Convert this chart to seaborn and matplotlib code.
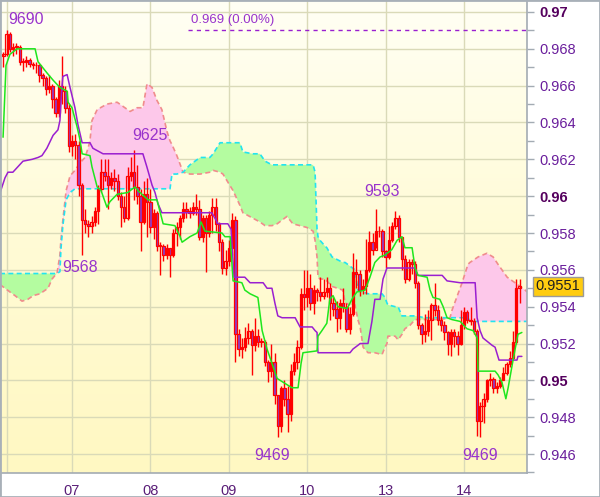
import numpy as np
import pandas as pd
import matplotlib
matplotlib.use("Agg")
import matplotlib.pyplot as plt
import seaborn as sns
from matplotlib.colors import LinearSegmentedColormap
from matplotlib.patches import Rectangle

# hourly bars, prices in pips (price * 10000)
first_open = 9676
closes = [9677, 9688, 9680, 9681, 9681, 9673, 9673, 9674, 9672, 9671,
          9671, 9666, 9664, 9658, 9660, 9653, 9645, 9660, 9657, 9648,
          9627, 9630, 9628, 9606, 9587, 9585, 9584, 9586, 9592, 9604,
          9613, 9611, 9606, 9610, 9608, 9600, 9594, 9588, 9611, 9613,
          9605, 9600, 9586, 9601, 9597, 9583, 9591, 9573, 9573, 9568,
          9572, 9568, 9580, 9583, 9588, 9593, 9592, 9591, 9594, 9593,
          9578, 9588, 9580, 9590, 9594, 9585, 9575, 9561, 9565, 9572,
          9587, 9525, 9517, 9518, 9523, 9527, 9519, 9524, 9521, 9521,
          9510, 9505, 9510, 9492, 9475, 9496, 9490, 9482, 9505, 9510,
          9518, 9547, 9545, 9550, 9542, 9549, 9548, 9546, 9548, 9550,
          9542, 9539, 9534, 9542, 9540, 9528, 9536, 9559, 9558, 9549,
          9551, 9560, 9575, 9571, 9581, 9581, 9570, 9567, 9576, 9584,
          9588, 9578, 9566, 9555, 9564, 9563, 9553, 9530, 9525, 9527,
          9533, 9541, 9538, 9533, 9530, 9526, 9520, 9526, 9524, 9520,
          9530, 9537, 9533, 9532, 9527, 9478, 9486, 9490, 9500, 9501,
          9496, 9497, 9500, 9504, 9509, 9512, 9521, 9550, 9551]
highs = [9678, 9690, 9689, 9683, 9683, 9682, 9675, 9676, 9675, 9673,
         9673, 9672, 9667, 9665, 9666, 9661, 9654, 9663, 9676, 9660,
         9650, 9633, 9634, 9630, 9607, 9593, 9587, 9589, 9594, 9606,
         9620, 9620, 9620, 9613, 9615, 9612, 9602, 9600, 9616, 9621,
         9625, 9617, 9604, 9608, 9610, 9604, 9593, 9592, 9575, 9574,
         9574, 9572, 9582, 9586, 9590, 9597, 9597, 9594, 9597, 9601,
         9598, 9590, 9590, 9592, 9599, 9599, 9586, 9577, 9571, 9576,
         9591, 9589, 9528, 9523, 9529, 9531, 9528, 9534, 9528, 9523,
         9522, 9511, 9520, 9515, 9492, 9497, 9500, 9497, 9509, 9515,
         9522, 9550, 9560, 9560, 9558, 9552, 9550, 9556, 9555, 9556,
         9553, 9545, 9543, 9544, 9550, 9542, 9540, 9569, 9566, 9560,
         9555, 9577, 9581, 9580, 9593, 9584, 9582, 9571, 9584, 9586,
         9592, 9590, 9573, 9568, 9566, 9566, 9565, 9554, 9531, 9536,
         9538, 9542, 9553, 9541, 9535, 9532, 9527, 9528, 9528, 9527,
         9538, 9540, 9538, 9540, 9534, 9528, 9488, 9493, 9501, 9504,
         9502, 9499, 9502, 9507, 9510, 9516, 9527, 9555, 9555]
lows = [9670, 9676, 9678, 9676, 9677, 9671, 9668, 9670, 9670, 9669,
        9667, 9662, 9660, 9655, 9656, 9648, 9643, 9643, 9650, 9645,
        9624, 9622, 9620, 9600, 9568, 9580, 9578, 9580, 9584, 9585,
        9602, 9608, 9593, 9604, 9603, 9598, 9583, 9586, 9587, 9608,
        9598, 9596, 9570, 9585, 9578, 9580, 9577, 9570, 9557, 9565,
        9566, 9556, 9567, 9573, 9577, 9586, 9588, 9588, 9590, 9590,
        9576, 9575, 9559, 9578, 9580, 9581, 9570, 9558, 9557, 9562,
        9568, 9510, 9513, 9512, 9516, 9520, 9503, 9516, 9518, 9518,
        9508, 9499, 9502, 9487, 9469, 9472, 9486, 9472, 9478, 9503,
        9506, 9517, 9538, 9540, 9538, 9536, 9543, 9543, 9544, 9545,
        9533, 9535, 9526, 9528, 9537, 9526, 9525, 9535, 9550, 9546,
        9547, 9547, 9559, 9568, 9572, 9578, 9567, 9561, 9566, 9575,
        9582, 9575, 9560, 9553, 9554, 9558, 9550, 9528, 9520, 9521,
        9524, 9522, 9535, 9530, 9527, 9522, 9514, 9513, 9518, 9514,
        9519, 9528, 9531, 9530, 9525, 9470, 9469, 9477, 9488, 9497,
        9493, 9493, 9496, 9500, 9503, 9507, 9511, 9520, 9542]

day_bars = [21, 45, 69, 93, 117, 141]
day_labels = ["07", "08", "09", "10", "13", "14"]

# tenkan (green) and kijun (purple): bar position, pips
tenkan_bar = [-0.1, 0.8, 2.0, 4.2, 9.7, 10.6, 13.3, 15.2, 17.3, 19.5, 19.8, 21.0, 22.5, 23.4,
              24.1, 26.5, 27.1, 28.7, 29.9, 31.7, 32.6, 34.8, 38.1, 38.8, 40.3, 41.2, 44.3,
              47.0, 48.9, 52.5, 54.1, 54.7, 57.1, 59.3, 60.5, 61.7, 66.9, 67.8, 69.4, 70.3,
              73.0, 73.9, 75.5, 77.9, 79.2, 80.7, 83.8, 85.6, 88.3, 90.2, 91.1, 91.7, 96.0,
              96.3, 97.5, 99.0, 99.9, 100.9, 102.4, 105.2, 107.0, 108.2, 110.7, 112.2, 113.7,
              115.3, 116.8, 118.9, 120.5, 122.0, 122.9, 125.1, 126.0, 126.9, 129.7, 130.6,
              131.5, 133.6, 134.6, 135.8, 137.3, 139.8, 141.9, 143.8, 145.0, 145.3, 150.5,
              151.4, 152.6, 153.8, 154.5, 156.0, 157.5, 158.7]
tenkan = [9632, 9671, 9677, 9680, 9680, 9673, 9667, 9663, 9659, 9657, 9651, 9648, 9638, 9631,
          9623, 9622, 9616, 9605, 9603, 9594, 9597, 9601, 9602, 9603, 9605, 9603, 9598,
          9598, 9585, 9584, 9578, 9575, 9578, 9580, 9586, 9581, 9580, 9578, 9578, 9554,
          9553, 9549, 9547, 9545, 9527, 9517, 9501, 9499, 9496, 9496, 9509, 9515, 9516,
          9524, 9527, 9531, 9544, 9546, 9540, 9539, 9545, 9548, 9549, 9556, 9564,
          9567, 9568, 9571, 9576, 9578, 9572, 9572, 9561, 9557, 9556, 9549,
          9545, 9544, 9540, 9534, 9533, 9532, 9528, 9527, 9523, 9505, 9505,
          9503, 9499, 9490, 9496, 9511, 9525, 9526]
kijun_bar = [-1.0, 0.5, 1.4, 2.9, 6.0, 8.8, 10.6, 11.8, 13.3, 15.2, 16.7, 17.3, 17.9, 18.2,
             19.5, 20.4, 21.9, 22.8, 24.1, 26.5, 27.4, 30.5, 42.7, 43.9, 45.5, 46.4, 47.3,
             48.5, 63.8, 65.7, 68.7, 69.7, 70.6, 73.9, 75.5, 79.5, 80.7, 82.2, 83.1, 84.0,
             85.3, 89.3, 90.8, 94.5, 95.4, 96.0, 96.3, 106.1, 107.0, 108.5, 109.2, 111.6,
             112.8, 113.7, 115.3, 116.2, 117.4, 126.0, 126.9, 134.3, 135.8, 139.8, 144.4,
             145.0, 145.9, 146.8, 149.6, 150.5, 151.7, 157.2, 157.5, 158.7]
kijun = [9602, 9610, 9613, 9613, 9619, 9620, 9621, 9622, 9626, 9633, 9636, 9641, 9659, 9665,
         9666, 9659, 9648, 9639, 9629, 9629, 9626, 9623, 9623, 9616, 9606, 9602, 9596,
         9591, 9591, 9585, 9585, 9582, 9556, 9556, 9553, 9553, 9550, 9550, 9542, 9535,
         9534, 9534, 9529, 9529, 9527, 9526, 9515, 9515, 9517, 9519, 9520, 9520,
         9532, 9544, 9544, 9555, 9561, 9561, 9557, 9557, 9554, 9553, 9553,
         9534, 9527, 9523, 9519, 9518, 9511, 9511, 9513, 9513]

# cloud: senkou span A (cyan) and span B (salmon)
cloud_bar = [-1.04, 2.0, 3.55, 5.7, 7.5, 9.1, 11.2, 13.65, 14.9, 15.8, 16.4, 17.3, 17.6, 18.2,
             19.2, 20.4, 21.9, 23.4, 25.0, 25.9, 26.5, 27.1, 28.7, 31.7, 34.8, 37.2, 38.8,
             40.9, 42.7, 43.95, 45.5, 47.0, 48.5, 50.1, 51.0, 51.6, 53.1, 55.0, 57.1, 60.2,
             63.2, 64.2, 66.3, 67.2, 70.3, 72.4, 73.3, 76.4, 78.5, 80.1, 82.2, 83.8, 86.8,
             88.6, 92.9, 94.8, 95.4, 96.0, 96.3, 96.9, 98.4, 99.0, 100.6, 103.9, 104.6,
             106.1, 107.6, 108.5, 109.2, 110.1, 111.6, 113.7, 115.9, 116.8, 117.4, 117.7,
             119.9, 120.8, 122.0, 122.9, 124.5, 126.0, 129.0, 133.6, 136.7, 137.3, 140.4,
             142.2, 142.8, 145.3, 148.0, 149.9, 151.4, 154.2, 156.6, 159.7, 160.3]
span_a = [9558, 9558, 9558, 9558, 9558, 9558, 9558, 9558, 9558, 9558, 9558, 9559, 9571, 9584,
          9598, 9602, 9604, 9604, 9604, 9604, 9604, 9604, 9604, 9604, 9604, 9604, 9604,
          9604, 9604, 9604, 9604, 9604, 9604, 9604, 9604, 9612, 9612, 9613, 9617, 9621,
          9621, 9623, 9629, 9629, 9629, 9629, 9624, 9623, 9623, 9619, 9617, 9617, 9617,
          9617, 9617, 9617, 9613, 9582, 9578, 9576, 9573, 9572, 9567, 9564, 9564,
          9562, 9560, 9549, 9548, 9548, 9547, 9547, 9547, 9545, 9542, 9541,
          9540, 9540, 9535, 9535, 9535, 9535, 9534, 9534, 9534, 9534, 9534,
          9534, 9532, 9532, 9532, 9532, 9532, 9532, 9532, 9532, 9532]
span_b = [9552, 9548, 9546, 9543, 9544, 9546, 9547, 9550, 9555, 9557, 9558, 9568, 9576, 9587,
          9603, 9611, 9614, 9618, 9621, 9626, 9630, 9641, 9647, 9650, 9651, 9648, 9646,
          9648, 9648, 9661, 9659, 9652, 9647, 9635, 9630, 9628, 9622, 9613, 9612, 9612,
          9613, 9614, 9613, 9612, 9603, 9595, 9591, 9588, 9586, 9584, 9584, 9585, 9589,
          9585, 9583, 9581, 9576, 9567, 9556, 9555, 9555, 9554, 9551, 9549, 9542,
          9541, 9541, 9533, 9529, 9518, 9515, 9515, 9514, 9518, 9520, 9524,
          9524, 9522, 9525, 9528, 9530, 9533, 9533, 9533, 9534, 9538, 9553,
          9563, 9564, 9567, 9569, 9567, 9563, 9556, 9553, 9549, 9548]

# marked extremes: bar, which side
marks = [(1, "high", (19, 11)), (40, "high", (16, 15)), (24, "low", (-2, -12)),
         (84, "low", (-6, -18)), (114, "high", (6, 18)), (146, "low", (0, -18))]

alert_level = 0.969
alert_change = 0.00
alert_start = 56.5

# ---- style
sns.set_style("white")
plt.rcParams["font.family"] = ["Liberation Sans", "DejaVu Sans"]

GRID = "#DADAB8"
AXCOL = "#A3ABB3"
RED = "#FF0000"
BEAR = "#8E3CC8"
LABEL = "#9933CC"

fig = plt.figure(figsize=(6, 4.97), dpi=100)
fig.patch.set_facecolor("white")
ax = fig.add_axes([0.0, 24 / 497, 527 / 600, 473 / 497])
xlim = (-1.04, 160.27)
ylim = (0.94497, 0.97065)
ax.set_xlim(*xlim)
ax.set_ylim(*ylim)

# background gradient
cm = LinearSegmentedColormap.from_list("bg", ["#FFFFF4", "#FFFBD6", "#FFF8C2"])
grad = np.linspace(0, 1, 256).reshape(-1, 1)
ax.imshow(grad, extent=[xlim[0], xlim[1], ylim[0], ylim[1]], aspect="auto",
          cmap=cm, origin="upper", zorder=0)

# grid
yt = np.round(np.arange(0.946, 0.9701, 0.002), 3)
ax.set_yticks(yt)
ax.set_yticks(np.round(np.arange(0.945, 0.9701, 0.001), 3), minor=True)
ax.set_xticks(day_bars)
ax.set_xticklabels(day_labels)
for v in yt:
    ax.axhline(v, color=GRID, lw=1, zorder=0.5)
for b in [1.1] + day_bars:
    ax.axvline(b, color=GRID, lw=1, zorder=0.5)

# cloud
cb = np.array(cloud_bar)
sa = np.array(span_a) / 10000
sb = np.array(span_b) / 10000
ax.fill_between(cb, sa, sb, where=sa >= sb, interpolate=True, color="#B4FCA0", lw=0, zorder=1)
ax.fill_between(cb, sa, sb, where=sa < sb, interpolate=True, color="#FDC8EA", lw=0, zorder=1)
ax.plot(cb, sb, color="#F08C8C", lw=1.2, ls=(0, (3, 2)), zorder=1.5)
ax.plot(cb, sa, color="#22E4F0", lw=1.2, ls=(0, (3, 2)), zorder=1.6)

# candles
c = np.array(closes) / 10000
o = np.concatenate([[first_open / 10000], c[:-1]])
h = np.array(highs) / 10000
l = np.array(lows) / 10000
bars = np.arange(len(c))
ax.vlines(bars, l, h, color=RED, lw=1, zorder=3)
bottom = np.minimum(o, c)
height = np.maximum(np.abs(c - o), 0.00003)
fc = [BEAR if cc < oo else "none" for oo, cc in zip(o, c)]
ax.bar(bars, height, bottom=bottom, width=0.72, color=fc, edgecolor=RED, linewidth=0.9, zorder=3.2)

# tenkan / kijun
tk = pd.DataFrame({"bar": tenkan_bar, "price": np.array(tenkan) / 10000})
kj = pd.DataFrame({"bar": kijun_bar, "price": np.array(kijun) / 10000})
sns.lineplot(data=kj, x="bar", y="price", color="#9A1FD0", lw=1.1, sort=False, estimator=None, ax=ax, zorder=4)
sns.lineplot(data=tk, x="bar", y="price", color="#1EE61E", lw=1.1, sort=False, estimator=None, ax=ax, zorder=4.1)
ax.set_xlabel("")
ax.set_ylabel("")

# extreme labels
for b, side, off in marks:
    val = highs[b] if side == "high" else lows[b]
    ax.annotate(str(val), xy=(b, val / 10000), xytext=(off[0] * 0.72, off[1] * 0.72),
                textcoords="offset points", ha="center", va="center",
                fontsize=11.5, color=LABEL, zorder=6)

# alert level
ax.plot([alert_start, xlim[1]], [alert_level, alert_level], color="#9A1FD0", lw=1,
        ls=(0, (3, 3)), zorder=5)
ax.annotate(f"{alert_level:.3f} ({alert_change:.2f}%)", xy=(alert_start, alert_level),
            xytext=(2, 3), textcoords="offset points", ha="left", va="bottom",
            fontsize=9.5, color=LABEL, zorder=6)

# axes styling
ax.yaxis.tick_right()
ax.yaxis.set_label_position("right")
labels = []
for v in yt:
    s = f"{v:.3f}".rstrip("0")
    labels.append(s)
ax.set_yticklabels(labels)
for t, s in zip(ax.get_yticklabels(), labels):
    if len(s) <= 4:
        t.set_fontweight("bold")
        t.set_color("#55005E")
    else:
        t.set_color("#6A1E9C")
ax.tick_params(axis="y", which="both", direction="out", length=5, width=1,
               color=AXCOL, pad=4, labelsize=10.5)
ax.tick_params(axis="x", direction="out", length=5, width=1, color=AXCOL,
               pad=3, labelsize=10.5, labelcolor="#5A1E78")
for sp in ["top", "left"]:
    ax.spines[sp].set_visible(False)
for sp in ["right", "bottom"]:
    ax.spines[sp].set_color(AXCOL)
    ax.spines[sp].set_linewidth(1.2)

# last price box
last = closes[-1] / 10000
ax.annotate(f"{last:.4f}", xy=(1, last), xycoords=("axes fraction", "data"),
            xytext=(6, 0), textcoords="offset points", ha="left", va="center",
            fontsize=10.5, color="#202020", annotation_clip=False, zorder=10,
            bbox=dict(boxstyle="square,pad=0.18", fc="#FFCC10", ec="#9A9A9A", lw=1))

fig.patches.append(Rectangle((0, 0), 1, 1, transform=fig.transFigure, fill=False,
                             edgecolor="#A8B0B8", lw=2))

fig.savefig("out.png", dpi=100)
